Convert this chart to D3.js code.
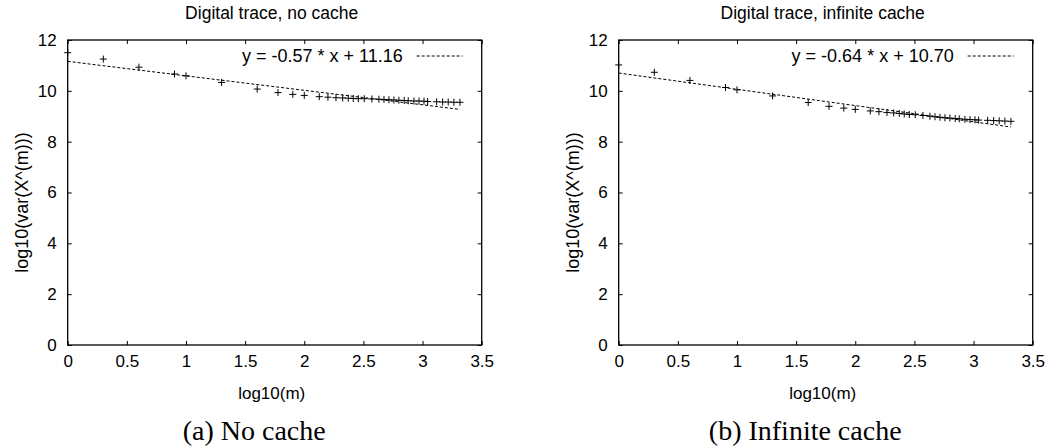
<!DOCTYPE html>
<html><head><meta charset="utf-8">
<script src="https://cdn.jsdelivr.net/npm/d3@7"></script>
<style>
body{margin:0;background:#fff;}
svg text{font-family:"Liberation Sans",Arial,sans-serif;fill:#000;}
</style></head>
<body><svg id="chart" width="1054" height="448"></svg>
<script>
// ---- data ----
const logM = [0, 0.301, 0.602, 0.903, 1.0, 1.301, 1.602, 1.778, 1.903, 2.0, 2.127, 2.2, 2.268, 2.325, 2.372, 2.414, 2.457, 2.507, 2.572, 2.631, 2.674, 2.716, 2.758, 2.8, 2.845, 2.879, 2.927, 2.97, 3.012, 3.043, 3.119, 3.17, 3.217, 3.265, 3.316];
const varNoCache = [11.50, 11.25, 10.93, 10.66, 10.59, 10.33, 10.07, 9.93, 9.86, 9.82, 9.77, 9.75, 9.73, 9.72, 9.71, 9.70, 9.69, 9.69, 9.68, 9.67, 9.66, 9.65, 9.64, 9.63, 9.62, 9.61, 9.60, 9.60, 9.59, 9.58, 9.57, 9.56, 9.56, 9.55, 9.55];
const varInfCache = [11.02, 10.73, 10.41, 10.13, 10.04, 9.80, 9.54, 9.39, 9.32, 9.27, 9.21, 9.18, 9.15, 9.13, 9.11, 9.09, 9.07, 9.06, 9.03, 9.00, 8.98, 8.96, 8.94, 8.93, 8.91, 8.90, 8.88, 8.87, 8.86, 8.85, 8.84, 8.83, 8.82, 8.81, 8.80];
const fitNoCache = {slope: -0.57, intercept: 11.16};
const fitInfCache = {slope: -0.64, intercept: 10.70};
const titles = ["Digital trace, no cache", "Digital trace, infinite cache"];
const captions = ["(a) No cache", "(b) Infinite cache"];
const xTicks = [0, 0.5, 1, 1.5, 2, 2.5, 3, 3.5];
const yTicks = [0, 2, 4, 6, 8, 10, 12];
const xLabel = "log10(m)";
const yLabel = "log10(var(X^(m)))";

// ---- drawing ----
const svg = d3.select("#chart");
const W = 414, H = 305;

function panel(ox, title, caption, ys, fit) {
  const g = svg.append("g").attr("transform", `translate(${ox},40)`);
  const x = d3.scaleLinear().domain([0, 3.5]).range([0, W]);
  const y = d3.scaleLinear().domain([0, 12]).range([H, 0]);
  const fmt = d => String(d);
  const tk = 4;
  g.append("g").attr("transform", `translate(0,${H})`)
    .call(d3.axisBottom(x).tickValues(xTicks).tickFormat(fmt).tickSizeInner(-tk).tickSizeOuter(0).tickPadding(10))
    .call(a => { a.select(".domain").remove(); a.selectAll("text").style("font-size","17px"); });
  g.append("g")
    .call(d3.axisTop(x).tickValues(xTicks).tickFormat("").tickSizeInner(-tk).tickSizeOuter(0))
    .call(a => a.select(".domain").remove());
  g.append("g")
    .call(d3.axisLeft(y).tickValues(yTicks).tickFormat(fmt).tickSizeInner(-tk).tickSizeOuter(0).tickPadding(11))
    .call(a => { a.select(".domain").remove(); a.selectAll("text").style("font-size","17px"); });
  g.append("g").attr("transform", `translate(${W},0)`)
    .call(d3.axisRight(y).tickValues(yTicks).tickFormat("").tickSizeInner(-tk).tickSizeOuter(0))
    .call(a => a.select(".domain").remove());
  g.selectAll(".tick line").attr("stroke", "#000").attr("stroke-width", 1);
  g.append("rect").attr("width", W).attr("height", H).attr("fill", "none").attr("stroke", "#000").attr("stroke-width", 1.3);

  // fit line
  const xmax = d3.max(logM);
  g.append("line")
    .attr("x1", x(0)).attr("y1", y(fit.intercept))
    .attr("x2", x(xmax)).attr("y2", y(fit.intercept + fit.slope * xmax))
    .attr("stroke", "#000").attr("stroke-width", 1).attr("stroke-dasharray", "3,2");

  // points as +
  const s = 3.5;
  g.append("g").selectAll("path").data(logM.map((d, i) => [d, ys[i]])).join("path")
    .attr("d", d => `M${x(d[0]) - s},${y(d[1])}H${x(d[0]) + s}M${x(d[0])},${y(d[1]) - s}V${y(d[1]) + s}`)
    .attr("stroke", "#000").attr("stroke-width", 1).attr("fill", "none");

  // legend
  g.append("text").attr("x", 335).attr("y", 16).attr("dy", "0.35em").attr("text-anchor", "end")
    .style("font-size", "18px")
    .text(`y = ${fit.slope.toFixed(2)} * x + ${fit.intercept.toFixed(2)}`);
  g.append("line").attr("x1", 349).attr("x2", 395).attr("y1", 16).attr("y2", 16)
    .attr("stroke", "#000").attr("stroke-width", 1).attr("stroke-dasharray", "3,2");

  // titles and labels
  g.append("text").attr("x", W / 2 - 3).attr("y", -27).attr("dy", "0.35em").attr("text-anchor", "middle")
    .style("font-size", "17.5px").text(title);
  g.append("text").attr("x", W / 2 - 3).attr("y", 353).attr("dy", "0.35em").attr("text-anchor", "middle")
    .style("font-size", "17px").text(xLabel);
  g.append("text").attr("transform", `translate(-46,${H / 2 + 10}) rotate(-90)`).attr("dy", "0.35em")
    .attr("text-anchor", "middle").style("font-size", "18px").text(yLabel);
  g.append("text").attr("x", 186.5).attr("y", 390).attr("dy", "0.35em").attr("text-anchor", "middle")
    .style("font-family", "'Liberation Serif','Times New Roman',serif").style("font-size", "28px").text(caption);
}

panel(67.7, titles[0], captions[0], varNoCache, fitNoCache);
panel(618.7, titles[1], captions[1], varInfCache, fitInfCache);
</script></body></html>
